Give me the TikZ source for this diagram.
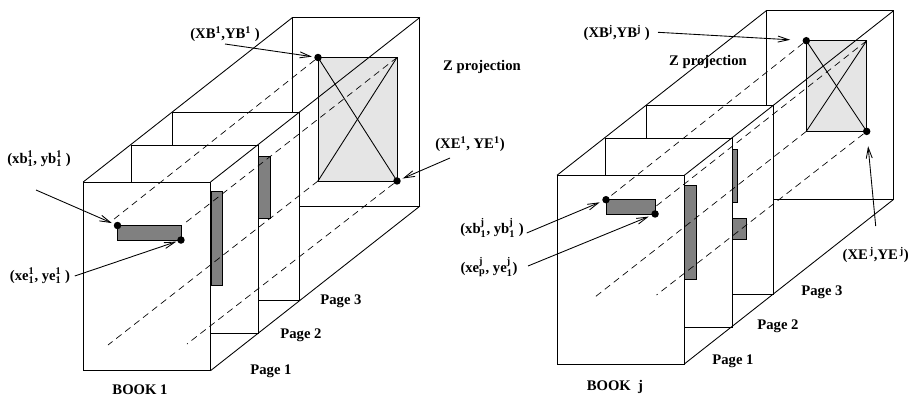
\documentclass[tikz,border=0pt]{standalone}
\usepackage{amsmath}
\usepackage{fontspec}
\setmainfont{Liberation Serif}
\usetikzlibrary{arrows.meta, positioning}

\begin{document}
\begin{tikzpicture}[
    x=0.75pt, y=-0.75pt,
    every path/.style={line width=0.65pt},
    sheet/.style={draw, fill=white, anchor=north west, inner sep=0pt, outer sep=0pt, minimum width=95.5pt, minimum height=141.5pt},
    zrect/.style={draw, fill=black!10, anchor=north west, inner sep=0pt, outer sep=0pt},
    bar/.style={draw, fill=black!50, anchor=north west, inner sep=0pt, outer sep=0pt},
    blob/.style={circle, fill=black, inner sep=0pt, minimum size=5.6pt},
    lbl/.style={font=\fontsize{11}{13}\selectfont\bfseries, inner sep=1pt},
    proj/.style={dashed, dash pattern=on 5pt off 3.5pt, line width=0.5pt},
    pointer/.style={-{Straight Barb[length=8pt, width=4.5pt]}, line width=0.65pt}
]
    \useasboundingbox (0,0) rectangle (911,397);

    % book 1
    \node[sheet] (backa) at (292.5,17.5) {};
    \node[zrect, minimum width=59.25pt, minimum height=92.6pt] (zra) at (318,57.5) {};
    \draw (zra.north west) -- (zra.south east);
    \draw (zra.north east) -- (zra.south west);
    \node[sheet] (pca) at (172.5,112) {};
    \node[bar, minimum width=8.6pt, minimum height=46.5pt] (bca) at (258.5,156) {};
    \node[sheet] (pba) at (131,145) {};
    \node[bar, minimum width=8.6pt, minimum height=70.5pt] (bba) at (211,191.5) {};
    \node[sheet] (paa) at (83.2,182) {};
    \node[bar, minimum width=47.6pt, minimum height=10.9pt] (baa) at (117.5,225.5) {};

    \draw (paa.north west) -- (backa.north west);
    \draw (paa.north east) -- (backa.north east);
    \draw (paa.south east) -- (backa.south east);

    \node[blob] (zba) at (zra.north west) {};
    \node[blob] (zea) at (zra.south east) {};
    \node[blob] (xba) at (baa.north west) {};
    \node[blob] (xea) at (baa.south east) {};

    \coordinate (dba) at (111,221.5);
    \coordinate (dca) at (185,223);
    \coordinate (dda) at (108,345);
    \coordinate (dea) at (187,344);
    \draw[proj] (zba) -- (dba);
    \draw[proj] (zra.north east) -- (dca);
    \draw[proj] (zra.south west) -- (dda);
    \draw[proj] (zea) -- (dea);

    \node[lbl] (lza) at (225,34) {(XB$^{\textbf{1}}$,YB$^{\textbf{1}}$ )};
    \node[lbl] (lea) at (470,144) {(XE$^{\textbf{1}}$, YE$^{\textbf{1}}$)};
    \node[lbl] (lxa) at (39,159) {(xb$^{\textbf{1}}_{\textbf{1}}$, yb$^{\textbf{1}}_{\textbf{1}}$ )};
    \node[lbl] (lya) at (40,276) {(xe$^{\textbf{1}}_{\textbf{1}}$, ye$^{\textbf{1}}_{\textbf{1}}$ )};
    \node[lbl] at (482,67) (tza) {Z projection};
    \node[lbl] at (140,389.5) (tba) {BOOK 1};
    \node[lbl] at (271,371) (t1a) {Page 1};
    \node[lbl] at (301,335) (t2a) {Page 2};
    \node[lbl] at (341,301) (t3a) {Page 3};

    \coordinate (sxa) at (36,190);
    \coordinate (sza) at (225,44);
    \coordinate (sea) at (450,158);
    \draw[pointer, shorten >=1.5pt] (sza) -- (zba);
    \draw[pointer, shorten >=1.5pt] (sea) -- (zea);
    \draw[pointer, shorten >=1.5pt] (sxa) -- (xba);
    \draw[pointer, shorten >=0.5pt] (lya.east) ++(3,0) -- (xea);

    % book j
    \node[sheet] (backb) at (766.3,10.7) {};
    \node[zrect, minimum width=45.3pt, minimum height=68pt] (zrb) at (806.3,40.7) {};
    \draw (zrb.north west) -- (zrb.south east);
    \draw (zrb.north east) -- (zrb.south west);
    \node[sheet] (pcb) at (646,105.7) {};
    \node[bar, minimum width=3.8pt, minimum height=40pt] (bcb) at (732.3,149) {};
    \node[bar, minimum width=10.7pt, minimum height=16pt] (bdb) at (732.3,218) {};
    \node[sheet] (pbb) at (605,138.3) {};
    \node[bar, minimum width=8.8pt, minimum height=70.5pt] (bbb) at (684.3,185) {};
    \node[sheet] (pab) at (557,175.3) {};
    \node[bar, minimum width=36.8pt, minimum height=10.7pt] (bab) at (606,199.7) {};

    \draw (pab.north west) -- (backb.north west);
    \draw (pab.north east) -- (backb.north east);
    \draw (pab.south east) -- (backb.south east);

    \node[blob] (zbb) at (zrb.north west) {};
    \node[blob] (zeb) at (zrb.south east) {};
    \node[blob] (xbb) at (bab.north west) {};
    \node[blob] (xeb) at (bab.south east) {};

    \coordinate (dcb) at (655,207);
    \coordinate (ddb) at (595,297);
    \coordinate (deb) at (656.5,295);
    \draw[proj] (zbb) -- (xbb);
    \draw[proj] (zrb.north east) -- (dcb);
    \draw[proj] (zrb.south west) -- (ddb);
    \draw[proj] (zeb) -- (deb);

    \node[lbl] (lzb) at (616.7,33) {(XB$^{\textbf{j}}$,YB$^{\textbf{j}}$ )};
    \node[lbl] (leb) at (875.7,255) {(XE$^{\,\textbf{j}}$,YE$^{\,\textbf{j}}$)};
    \node[lbl] (lxb) at (492,228) {(xb$^{\textbf{j}}_{\textbf{1}}$, yb$^{\textbf{j}}_{\textbf{1}}$ )};
    \node[lbl] (lyb) at (489,267) {(xe$^{\textbf{j}}_{\textbf{p}}$, ye$^{\textbf{j}}_{\textbf{1}}$)};
    \node[lbl] at (708,62) (tzb) {Z projection};
    \node[lbl] at (615,387) (tbb) {BOOK\ \ j};
    \node[lbl] at (733,361) (t1b) {Page 1};
    \node[lbl] at (778,326) (t2b) {Page 2};
    \node[lbl] at (822,292) (t3b) {Page 3};

    \coordinate (szb) at (658,32.3);
    \coordinate (seb) at (875.7,226);
    \coordinate (sxb) at (526.7,233);
    \coordinate (syb) at (528,266);
    \draw[pointer, shorten >=9pt] (szb) -- (zbb);
    \draw[pointer, shorten >=8pt] (seb) -- (zeb);
    \draw[pointer, shorten >=2pt] (sxb) -- (xbb);
    \draw[pointer, shorten >=2pt] (syb) -- (xeb);
\end{tikzpicture}
\end{document}
